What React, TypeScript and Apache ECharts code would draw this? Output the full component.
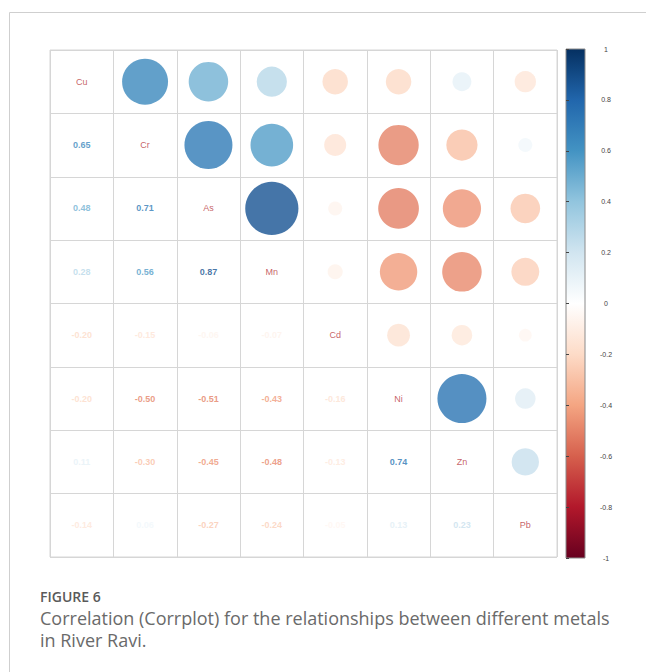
import React, { useEffect, useRef } from "react";
import * as echarts from "echarts";

const metals = ["Cu", "Cr", "As", "Mn", "Cd", "Ni", "Zn", "Pb"];
const rowCu = [1, 0.65, 0.48, 0.28, -0.2, -0.2, 0.11, -0.14];
const rowCr = [0.65, 1, 0.71, 0.56, -0.15, -0.5, -0.3, 0.06];
const rowAs = [0.48, 0.71, 1, 0.87, -0.06, -0.51, -0.45, -0.27];
const rowMn = [0.28, 0.56, 0.87, 1, -0.07, -0.43, -0.48, -0.24];
const rowCd = [-0.2, -0.15, -0.06, -0.07, 1, -0.16, -0.13, -0.05];
const rowNi = [-0.2, -0.5, -0.51, -0.43, -0.16, 1, 0.74, 0.13];
const rowZn = [0.11, -0.3, -0.45, -0.48, -0.13, 0.74, 1, 0.23];
const rowPb = [-0.14, 0.06, -0.27, -0.24, -0.05, 0.13, 0.23, 1];
const corrRows = [rowCu, rowCr, rowAs, rowMn, rowCd, rowNi, rowZn, rowPb];

// corrplot COL2('RdBu'), from -1 to 1
const palette = [
  "#67001F", "#B2182B", "#D6604D", "#F4A582", "#FDDBC7", "#FFFFFF",
  "#D1E5F0", "#92C5DE", "#4393C3", "#2166AC", "#053061",
];
const colorbarTicks = [-1, -0.8, -0.6, -0.4, -0.2, 0, 0.2, 0.4, 0.6, 0.8, 1];

function hexToRgb(h: string) {
  return [parseInt(h.slice(1, 3), 16), parseInt(h.slice(3, 5), 16), parseInt(h.slice(5, 7), 16)];
}
function colorFor(v: number) {
  const t = ((v + 1) / 2) * (palette.length - 1);
  const i = Math.max(0, Math.min(palette.length - 2, Math.floor(t)));
  const f = t - i;
  const a = hexToRgb(palette[i]);
  const b = hexToRgb(palette[i + 1]);
  const c = a.map((x, k) => Math.round(x + (b[k] - x) * f));
  return `rgb(${c[0]},${c[1]},${c[2]})`;
}

export default function App() {
  const ref = useRef<HTMLDivElement>(null);
  useEffect(() => {
    document.body.style.margin = "0";
    const chart = echarts.init(ref.current!, null, { renderer: "svg" });
    const circles: any[] = [];
    const numbers: any[] = [];
    const diag: any[] = [];
    corrRows.forEach((row, i) => {
      row.forEach((v, j) => {
        if (i === j) {
          diag.push({ value: [metals[j], metals[i]], name: metals[i] });
        } else if (j > i) {
          circles.push({
            value: [metals[j], metals[i], v],
            symbolSize: Math.sqrt(Math.abs(v)) * 57,
            itemStyle: { color: colorFor(v) },
          });
        } else {
          numbers.push({
            value: [metals[j], metals[i], v],
            label: { color: colorFor(v) },
          });
        }
      });
    });
    const gradStops = palette
      .slice()
      .reverse()
      .map((c, k) => ({ offset: k / (palette.length - 1), color: c }));

    chart.setOption({
      animation: false,
      backgroundColor: "#ffffff",
      grid: [
        { left: 50, top: 50, width: 507, height: 507, show: true, borderColor: "#d6d6d6", borderWidth: 1 },
        {
          left: 566, top: 49, width: 19, height: 509, show: true,
          borderColor: "#8a8a8a", borderWidth: 1,
          backgroundColor: new echarts.graphic.LinearGradient(0, 0, 0, 1, gradStops),
        },
      ],
      xAxis: [
        {
          type: "category", data: metals, gridIndex: 0,
          axisLine: { show: false }, axisTick: { show: false }, axisLabel: { show: false },
          splitLine: { show: true, interval: 0, lineStyle: { color: "#d6d6d6", width: 1 } },
        },
        { type: "value", gridIndex: 1, show: false, min: 0, max: 1 },
      ],
      yAxis: [
        {
          type: "category", data: metals, gridIndex: 0, inverse: true,
          axisLine: { show: false }, axisTick: { show: false }, axisLabel: { show: false },
          splitLine: { show: true, interval: 0, lineStyle: { color: "#d6d6d6", width: 1 } },
        },
        {
          type: "value", gridIndex: 1, position: "right", min: -1, max: 1, interval: 0.2,
          axisLine: { show: false },
          axisTick: { show: true, length: 3, lineStyle: { color: "#444" } },
          splitLine: { show: false },
          axisLabel: {
            fontSize: 7, color: "#444", fontFamily: "Liberation Sans",
            align: "center", margin: 21,
            formatter: (v: number) => String(colorbarTicks.find((t) => Math.abs(t - v) < 1e-6) ?? v),
          },
        },
      ],
      series: [
        {
          type: "scatter", xAxisIndex: 0, yAxisIndex: 0, data: circles,
          symbol: "circle", label: { show: false },
        },
        {
          type: "scatter", xAxisIndex: 0, yAxisIndex: 0, data: numbers, symbolSize: 0,
          label: {
            show: true, position: "inside", fontSize: 9, fontWeight: "bold",
            fontFamily: "Liberation Sans",
            formatter: (p: any) => p.value[2].toFixed(2),
          },
        },
        {
          type: "scatter", xAxisIndex: 0, yAxisIndex: 0, data: diag, symbolSize: 0,
          label: {
            show: true, position: "inside", fontSize: 9, color: "#B8383E",
            fontFamily: "Liberation Sans", formatter: (p: any) => p.name,
          },
        },
      ],
      graphic: [
        { type: "line", shape: { x1: 9.5, y1: 12.5, x2: 646, y2: 12.5 }, style: { stroke: "#cfcfcf", lineWidth: 1 } },
        { type: "line", shape: { x1: 9.5, y1: 12.5, x2: 9.5, y2: 672 }, style: { stroke: "#cfcfcf", lineWidth: 1 } },
        {
          type: "text", left: 40, top: 589,
          style: { text: "FIGURE 6", fontSize: 14, fontWeight: 600, fill: "#5a5a5a", fontFamily: "Open Sans" },
        },
        {
          type: "text", left: 40, top: 607,
          style: {
            text: "Correlation (Corrplot) for the relationships between different metals\nin River Ravi.",
            fontSize: 18, lineHeight: 22, fill: "#6a6a6a", fontFamily: "Open Sans",
          },
        },
      ],
    });
    return () => chart.dispose();
  }, []);
  return <div ref={ref} style={{ width: 646, height: 672 }} />;
}
